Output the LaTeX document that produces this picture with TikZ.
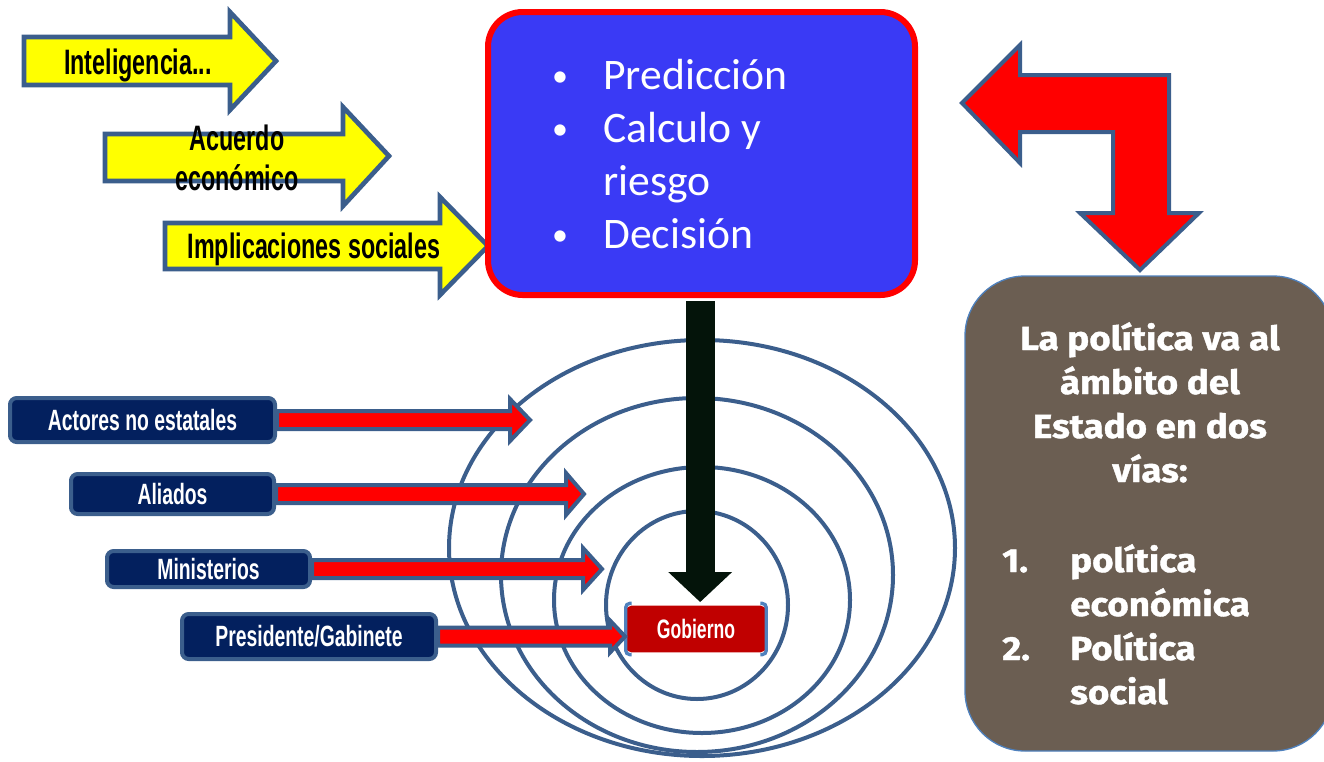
\documentclass[tikz,border=0pt]{standalone}
\usepackage{fontspec}
\usetikzlibrary{arrows.meta,calc}
\setmainfont{Carlito}
\newfontfamily\condf[FakeStretch=0.66]{Liberation Sans}
\newfontfamily\roundf[FakeStretch=1.1,FakeBold=1.2]{Fira Sans}
\newfontfamily\calf{Carlito}
\definecolor{steel}{HTML}{3B5E8C}
\definecolor{bluef}{HTML}{3A3AF5}
\definecolor{navyf}{HTML}{03205E}
\definecolor{gobred}{HTML}{C00000}
\definecolor{brownf}{HTML}{6B5E52}
\definecolor{lightb}{HTML}{4F81BD}
\definecolor{darkarr}{HTML}{04140A}
\definecolor{ylw}{HTML}{FFFF00}
\begin{document}
\begin{tikzpicture}[x=0.75pt,y=-0.75pt,
  yarrow/.style={draw=steel,line width=3.5pt,fill=ylw,line join=miter},
  ytext/.style={text=black,inner sep=0pt,font=\condf\bfseries\fontsize{26.5}{30}\selectfont},
  redarr/.style={draw=steel,fill=red,line width=3pt,line join=miter},
  navybox/.style={draw=steel,fill=navyf,line width=3pt,rounded corners=5pt,text=white,inner sep=0pt,
     font=\condf\bfseries\fontsize{22}{24}\selectfont},
  bluebox/.style={draw=red,line width=4.5pt,fill=bluef,rounded corners=26pt,inner sep=0pt,
     minimum width=320.25pt,minimum height=212.25pt},
  btext/.style={text=white,inner sep=0pt,font=\calf\fontsize{32.7}{40}\selectfont},
  bullet/.style={text=white,inner sep=0pt,font=\calf\fontsize{24}{28}\selectfont},
  brownbox/.style={draw=lightb,line width=1pt,fill=brownf,rounded corners=45pt,inner sep=0pt,
     minimum width=276pt,minimum height=356.25pt},
  wtext/.style={text=white,inner sep=0pt,font=\roundf\bfseries\fontsize{25}{32}\selectfont},
  gobbox/.style={fill=gobred,rounded corners=4pt,text=white,inner sep=0pt,
     minimum width=105pt,minimum height=35pt,font=\condf\bfseries\fontsize{20}{22}\selectfont},
  ring/.style={draw=steel,line width=3pt},
  barrow/.style={draw=darkarr,line width=21.75pt,-{Triangle[width=46.5pt,length=22.5pt]}},
  bracket/.style={draw=lightb,line width=2.5pt,rounded corners=3pt}
]
\useasboundingbox (0,0) rectangle (1324,761);
\clip (0,0) rectangle (1324,761);

% yellow arrows
\draw[yarrow] (24,37) -- (230,37) -- (230,12) -- (276,61) -- (230,110) -- (230,85) -- (24,85) -- cycle;
\draw[yarrow] (105,134) -- (343,134) -- (343,107) -- (389,156) -- (343,206) -- (343,181) -- (105,181) -- cycle;
\draw[yarrow] (165,223) -- (440,223) -- (440,197) -- (488,246) -- (440,295) -- (440,269) -- (165,269) -- cycle;
\node[ytext,anchor=base] (intel) at (138,74) {Inteligencia...};
\node[ytext,anchor=base] (acu1) at (237,150) {Acuerdo};
\node[ytext,anchor=base] (acu2) at (237,190) {económico};
\node[ytext,anchor=base] (impl) at (314,258) {Implicaciones sociales};

% blue box
\node[bluebox] (blue) at (701.5,153.5) {};
\node[bullet,anchor=base] (bu1) at (560,86) {•};
\node[btext,anchor=base west] (pred) at (603,89) {Predicción};
\node[bullet,anchor=base] (bu2) at (560,139) {•};
\node[btext,anchor=base west] (calc) at (603,142) {Calculo y};
\node[btext,anchor=base west] (ries) at (603,195) {riesgo};
\node[bullet,anchor=base] (bu3) at (560,245) {•};
\node[btext,anchor=base west] (deci) at (603,248) {Decisión};

% red bent arrow
\draw[redarr] (962,103) -- (1020,45) -- (1020,75) -- (1169,75) -- (1169,213) -- (1199,213) -- (1140,270)
  -- (1080,213) -- (1113,213) -- (1113,132) -- (1020,132) -- (1020,163) -- cycle;

% brown box
\node[brownbox] (brown) at (1149,513.5) {};
\node[wtext,anchor=base] (l1) at (1150,350) {La política va al};
\node[wtext,anchor=base] (l2) at (1150,394) {ámbito del};
\node[wtext,anchor=base] (l3) at (1150,438) {Estado en dos};
\node[wtext,anchor=base] (l4) at (1150,482) {vías:};
\node[wtext,anchor=base west] (n1) at (1002,572) {1.};
\node[wtext,anchor=base west] (i1a) at (1070,572) {política};
\node[wtext,anchor=base west] (i1b) at (1070,616) {económica};
\node[wtext,anchor=base west] (n2) at (1002,660) {2.};
\node[wtext,anchor=base west] (i2a) at (1070,660) {Política};
\node[wtext,anchor=base west] (i2b) at (1070,704) {social};

% rings
\draw[ring] (702,548) ellipse [x radius=253, y radius=208];
\draw[ring] (697,575) ellipse [x radius=196, y radius=177];
\draw[ring] (702,600) ellipse [x radius=148, y radius=133];
\draw[ring] (697,605) ellipse [x radius=91, y radius=94];

% navy boxes
\node[navybox,minimum width=198.75pt,minimum height=33pt] (act) at (142.5,420) {Actores no estatales};
\node[navybox,minimum width=152.25pt,minimum height=30pt] (ali) at (172.5,494) {Aliados};
\node[navybox,minimum width=152.25pt,minimum height=27pt] (min) at (208.5,569) {Ministerios};
\node[navybox,minimum width=190.5pt,minimum height=33.75pt] (pre) at (309,636.5) {Presidente/Gabinete};

% gobierno
\node[gobbox] (gob) at (696,629) {Gobierno};
\draw[bracket] ($(gob.north west)+(6,-2)$) -- ($(gob.north west)+(0,-2)$) -- ($(gob.south west)+(0,2)$) -- ($(gob.south west)+(6,2)$);
\draw[bracket] ($(gob.north east)+(-6,-2)$) -- ($(gob.north east)+(0,-2)$) -- ($(gob.south east)+(0,2)$) -- ($(gob.south east)+(-6,2)$);

% red arrows
\draw[redarr] (act.east) ++(0,-9) -- ++(233,0) -- ++(0,-12) -- ++(20,21) -- ++(-20,21) -- ++(0,-12) -- ++(-233,0) -- cycle;
\draw[redarr] (ali.east) ++(0,-9) -- ++(290,0) -- ++(0,-12) -- ++(18,21) -- ++(-18,21) -- ++(0,-12) -- ++(-290,0) -- cycle;
\draw[redarr] (min.east) ++(0,-9) -- ++(271,0) -- ++(0,-12) -- ++(19,21) -- ++(-19,21) -- ++(0,-12) -- ++(-271,0) -- cycle;
\draw[redarr] (pre.east) ++(0,-9) -- ++(172,0) -- ++(0,-7) -- ++(15,16) -- ++(-15,16) -- ++(0,-7) -- ++(-172,0) -- cycle;

% black arrow
\draw[barrow,shorten <=2.5pt,shorten >=2.5pt] ([xshift=-1pt]blue.south) -- ([xshift=-1pt]blue.south |- gob.north);
\end{tikzpicture}
\end{document}
